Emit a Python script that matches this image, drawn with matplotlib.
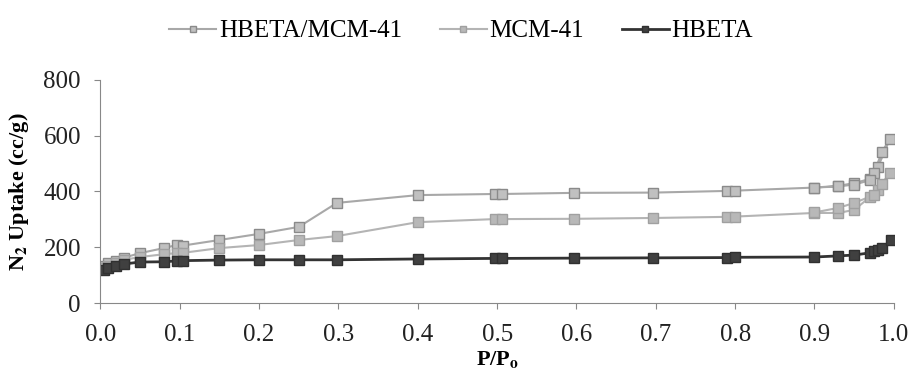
import numpy as np
import matplotlib
matplotlib.use("Agg")
import matplotlib.pyplot as plt

# N2 isotherms, adsorption then desorption branch
p_hm = [0.005, 0.01, 0.02, 0.03, 0.05, 0.08, 0.096, 0.104, 0.15, 0.2, 0.25, 0.298, 0.40, 0.497, 0.506, 0.597, 0.697, 0.79, 0.80, 0.90, 0.93, 0.95, 0.97, 0.98, 0.995,
        0.985, 0.975, 0.97, 0.95, 0.93, 0.90]
v_hm = [132, 142, 152, 163, 179, 197, 208, 206, 226, 248, 273, 359, 387, 391, 391, 395, 396, 402, 403, 414, 420, 430, 445, 488, 588,
        542, 466, 440, 425, 418, 414]

p_mcm = [0.005, 0.01, 0.02, 0.03, 0.05, 0.08, 0.096, 0.104, 0.15, 0.2, 0.25, 0.298, 0.40, 0.497, 0.506, 0.597, 0.697, 0.79, 0.80, 0.90, 0.93, 0.95, 0.97, 0.98, 0.995,
         0.985, 0.975, 0.95, 0.93, 0.90]
v_mcm = [125, 133, 145, 155, 165, 175, 179, 180, 197, 208, 226, 240, 290, 301, 301, 302, 305, 309, 310, 323, 323, 334, 380, 405, 466,
         427, 387, 359, 341, 325]

p_hb = [0.005, 0.01, 0.02, 0.03, 0.05, 0.08, 0.096, 0.104, 0.15, 0.2, 0.25, 0.298, 0.40, 0.497, 0.506, 0.597, 0.697, 0.79, 0.80, 0.90, 0.93, 0.95, 0.97, 0.975, 0.98, 0.985, 0.997]
v_hb = [118, 126, 134, 140, 147, 148, 151, 152, 154, 155, 155, 155, 158, 160, 160, 161, 162, 163, 164, 165, 169, 172, 180, 185, 190, 197, 226]

plt.rcParams['font.family'] = ['Liberation Serif', 'DejaVu Serif']
plt.rcParams['mathtext.fontset'] = 'stix'

fig = plt.figure(figsize=(9.13, 3.88), dpi=100)
ax = fig.add_axes([0.110, 0.219, 0.869, 0.575])

ax.plot(p_hm, v_hm, "-s", color="#a8a8a8", mfc="#c0c0c0", mec="#8a8a8a", ms=6.5, lw=1.5, label="HBETA/MCM-41")
ax.plot(p_mcm, v_mcm, "-s", color="#b4b4b4", mfc="#b8b8b8", mec="#a0a0a0", ms=6.5, lw=1.5, label="MCM-41")
ax.plot(p_hb, v_hb, "-s", color="#333333", mfc="#404040", mec="#303030", ms=6.5, lw=2, label="HBETA")

ax.set_xlim(0, 1.0)
ax.set_ylim(0, 800)
ax.set_xticks(np.arange(0, 1.01, 0.1))
ax.set_xticklabels(["%.1f" % t for t in np.arange(0, 1.01, 0.1)])
ax.set_yticks([0, 200, 400, 600, 800])
ax.tick_params(labelsize=18, color="#888888", length=4, labelcolor="#222222")
ax.tick_params(axis="x", pad=11)
ax.tick_params(axis="y", pad=10)
for s in ["top", "right"]:
    ax.spines[s].set_visible(False)
for s in ["left", "bottom"]:
    ax.spines[s].set_color("#888888")

ax.set_xlabel("P/P$_\\mathbf{o}$", fontsize=16, fontweight="bold", labelpad=2)
ax.set_ylabel("N$_\\mathbf{2}$ Uptake (cc/g)", fontsize=16, fontweight="bold", labelpad=9)

fig.legend(loc="center", bbox_to_anchor=(0.505, 0.92), ncol=3, frameon=False,
           fontsize=18, handlelength=1.9, columnspacing=1.5, handletextpad=0.1,
           markerscale=0.7)

fig.savefig("out.png", dpi=100)
